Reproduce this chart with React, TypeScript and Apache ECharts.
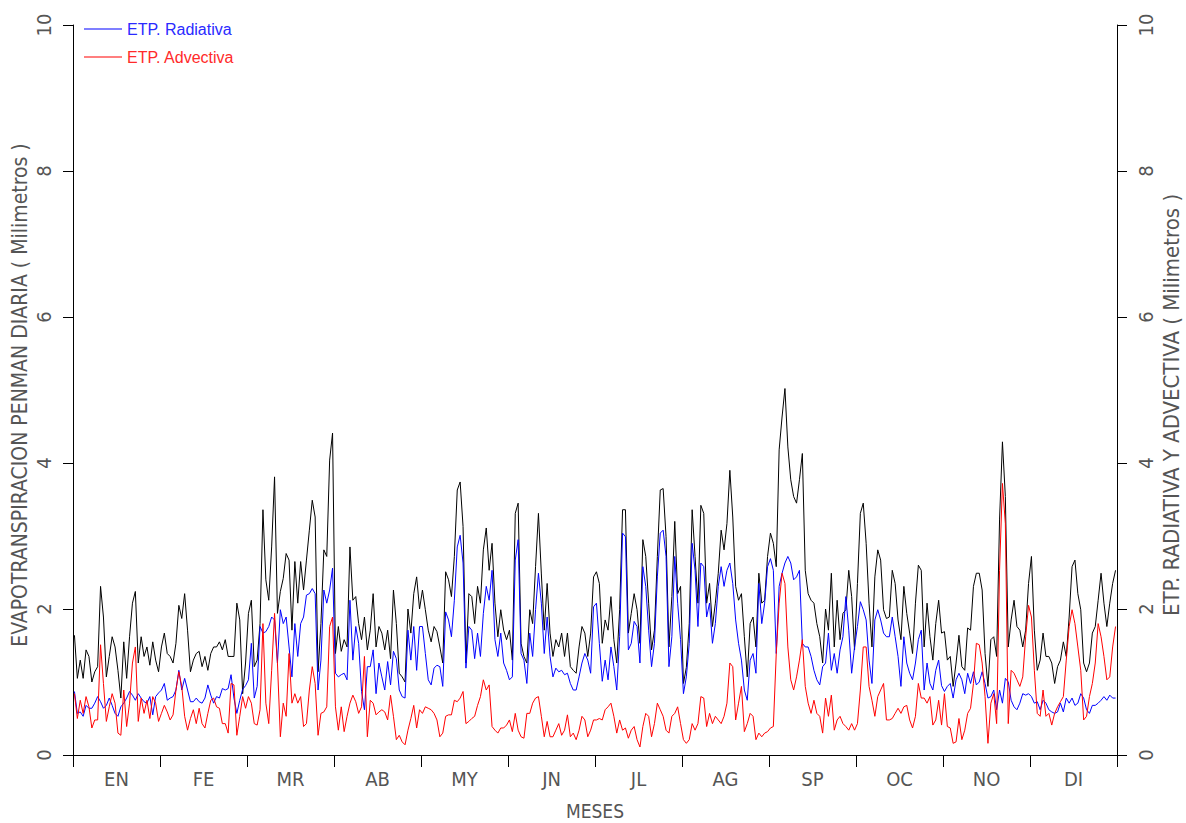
import React, { useEffect, useRef } from "react";
import * as echarts from "echarts";

const months = ["EN", "FE", "MR", "AB", "MY", "JN", "JL", "AG", "SP", "OC", "NO", "DI"];
const yTickValues = [0, 2, 4, 6, 8, 10];

// Daily Penman ETP (black), one row per month (30 days each)
const etpPenman: number[][] = [
  [1.64,1.05,1.30,1.05,1.44,1.35,1.00,1.14,1.21,2.31,1.89,1.07,1.35,1.62,1.48,1.16,0.78,1.55,1.05,1.62,2.08,2.24,1.26,1.62,1.35,1.48,1.23,1.55,1.30,1.14],
  [1.48,1.67,1.39,1.35,1.26,1.53,2.05,1.87,2.21,1.71,1.14,1.30,1.39,1.42,1.21,1.35,1.16,1.39,1.48,1.48,1.55,1.44,1.58,1.35,1.35,1.35,2.08,1.85,0.84,1.26],
  [1.94,2.12,1.21,1.30,1.80,3.36,2.40,2.12,2.85,3.81,1.94,2.24,2.42,2.76,2.67,1.71,2.65,2.08,2.65,2.26,2.67,3.08,3.49,3.26,1.14,1.80,2.81,2.72,4.04,4.41],
  [1.39,1.76,1.42,1.58,1.48,2.85,2.12,2.17,1.80,1.58,1.89,1.44,1.71,2.21,1.48,1.76,1.67,1.44,1.71,1.32,2.26,1.80,1.12,1.07,1.00,2.00,1.67,2.21,2.44,2.00],
  [2.26,1.99,1.71,1.55,1.76,1.69,1.48,1.26,2.51,2.40,2.17,2.72,3.63,3.74,3.13,1.26,2.21,2.17,1.80,2.31,2.08,2.81,3.11,2.53,2.90,2.08,1.62,1.99,1.71,1.58],
  [1.71,1.30,3.31,3.45,1.53,1.35,1.26,1.99,1.80,2.58,3.31,2.48,1.71,2.35,1.67,1.35,1.58,1.48,1.67,1.35,1.67,1.21,1.16,1.12,1.48,1.76,1.67,1.35,1.67,2.44],
  [2.51,2.35,1.53,1.85,1.71,2.17,1.58,1.26,1.99,3.36,3.36,1.67,1.94,2.21,1.99,1.53,2.95,2.72,2.08,1.44,1.71,2.72,3.63,3.65,2.99,1.48,2.17,3.20,2.21,2.31],
  [0.98,1.20,1.80,3.36,2.72,2.08,3.42,3.31,2.08,2.35,1.76,2.08,2.49,3.08,2.81,3.17,3.90,3.26,2.31,2.12,2.21,1.62,1.07,1.80,1.89,1.48,2.49,2.08,2.12,2.72],
  [3.04,2.90,2.58,4.18,4.63,5.02,4.22,3.77,3.54,3.45,3.77,4.13,2.53,2.21,2.12,2.08,1.80,1.62,1.26,2.00,1.71,2.49,1.48,2.12,1.58,1.94,1.99,2.53,2.17,1.44],
  [2.35,3.31,3.45,2.90,2.08,1.48,2.44,2.81,2.67,1.99,1.87,1.89,2.53,2.35,1.85,1.58,2.31,1.94,1.67,1.39,2.08,2.60,2.53,1.48,2.08,1.62,1.30,1.80,2.12,1.67],
  [1.69,1.30,1.35,0.94,1.26,1.64,1.21,1.16,1.74,1.71,2.31,2.49,2.49,2.26,1.39,0.94,1.58,1.62,1.35,3.22,4.29,3.54,1.48,1.85,2.12,1.76,1.71,1.48,1.71,2.35],
  [2.72,1.71,1.16,1.30,1.67,1.35,1.35,1.26,0.98,1.21,1.30,1.55,1.35,1.89,2.58,2.67,2.21,1.99,1.26,1.14,1.26,1.67,1.76,2.12,2.49,2.08,1.76,2.08,2.35,2.53],
];

// ETP Radiativa (blue)
const etpRadiativa: number[][] = [
  [0.87,0.57,0.59,0.53,0.68,0.64,0.64,0.71,0.80,0.73,0.64,0.68,0.78,0.68,0.57,0.53,0.66,0.71,0.78,0.87,0.82,0.75,0.84,0.78,0.73,0.71,0.80,0.55,0.80,0.85],
  [0.89,0.98,0.75,0.78,0.80,0.89,1.16,0.89,1.05,0.89,0.73,0.73,0.78,0.73,0.71,0.78,0.96,0.82,0.71,0.80,0.78,0.91,0.89,0.91,1.10,0.78,0.57,0.75,0.90,0.95],
  [1.03,1.53,0.78,0.94,1.76,1.67,1.69,1.76,1.89,1.85,1.26,1.99,1.80,1.89,1.48,1.07,1.80,1.35,1.80,1.89,2.19,2.21,2.28,2.21,0.89,1.30,2.26,2.08,2.26,2.56],
  [1.12,1.07,1.10,1.12,1.03,2.12,1.30,1.76,1.53,0.87,0.62,1.21,1.21,1.44,0.84,1.26,1.07,0.89,1.28,0.96,1.42,1.32,0.89,0.80,0.78,1.71,1.30,1.76,1.16,1.76],
  [1.76,1.39,1.03,0.96,1.19,1.23,1.21,0.94,1.96,1.85,1.62,2.12,2.85,3.01,2.63,1.19,1.76,1.71,1.32,1.67,1.35,1.94,2.31,2.12,2.53,1.58,1.35,1.67,1.26,1.16],
  [1.03,1.07,2.67,2.95,1.39,1.30,0.98,1.67,1.35,1.99,2.49,2.08,1.39,1.89,1.35,1.07,1.19,1.14,1.16,1.10,1.12,0.98,0.89,0.89,1.07,1.26,1.39,1.30,1.12,2.03],
  [2.08,1.53,1.01,1.30,1.03,1.48,1.21,0.89,1.62,3.04,2.99,1.44,1.53,1.83,1.76,1.26,2.58,2.31,1.71,1.21,1.53,2.44,3.04,3.08,2.72,1.21,1.62,2.72,2.08,1.58],
  [0.84,1.07,1.53,2.90,2.53,1.76,2.63,2.58,1.89,2.08,1.53,1.80,2.31,2.58,2.31,2.53,2.63,2.35,1.85,1.53,1.30,0.89,0.75,1.30,1.39,1.12,2.35,1.80,2.08,2.58],
  [2.69,2.53,1.39,2.31,2.49,2.63,2.72,2.63,2.40,2.44,2.53,1.53,1.48,1.48,1.35,1.16,1.03,0.96,1.21,1.26,1.67,1.16,1.39,1.12,1.44,1.62,2.17,1.71,1.12,1.48],
  [1.76,2.10,1.99,1.85,1.30,0.98,1.85,1.99,1.85,1.67,1.62,1.62,1.89,1.62,1.35,0.94,1.62,1.26,1.12,1.03,1.26,1.58,1.71,0.89,1.26,0.98,0.89,1.16,1.30,0.95],
  [0.87,0.94,0.98,0.78,1.03,1.12,1.03,0.84,1.12,0.98,1.14,0.96,1.00,1.14,0.98,0.78,0.80,0.89,0.62,0.89,0.71,1.05,1.00,0.75,0.66,0.62,0.71,0.84,0.82,0.84],
  [0.80,0.71,0.73,0.62,0.75,0.71,0.62,0.59,0.57,0.59,0.71,0.59,0.78,0.71,0.78,0.68,0.71,0.84,0.78,0.62,0.57,0.68,0.68,0.71,0.75,0.80,0.75,0.82,0.78,0.78],
];

// ETP Advectiva (red)
const etpAdvectiva: number[][] = [
  [0.84,0.50,0.75,0.57,0.80,0.66,0.37,0.48,0.48,1.51,0.98,0.46,0.66,0.84,0.71,0.30,0.27,0.89,0.39,0.71,1.26,1.48,0.46,0.78,0.57,0.75,0.50,0.80,0.71,0.46],
  [0.57,0.68,0.59,0.48,0.55,0.89,1.14,0.94,0.53,0.34,0.50,0.62,0.43,0.64,0.43,0.37,0.57,0.75,0.78,0.66,0.64,0.43,0.43,0.30,0.98,0.96,0.27,0.53,0.80,0.64],
  [0.80,0.71,0.43,0.41,0.62,1.80,0.71,0.43,1.16,1.94,1.26,0.25,0.71,0.53,1.39,0.71,0.84,0.71,0.80,0.39,0.43,0.89,1.21,0.98,0.27,0.57,0.59,0.66,1.76,1.89],
  [0.66,0.34,0.66,0.32,0.53,0.71,0.82,0.73,0.57,0.66,1.35,0.25,0.75,0.71,0.55,0.59,0.62,0.59,0.48,0.82,0.53,0.21,0.27,0.18,0.14,0.34,0.50,0.68,0.37,0.62],
  [0.57,0.66,0.64,0.62,0.57,0.48,0.25,0.30,0.53,0.55,0.55,0.75,0.73,0.78,0.87,0.43,0.46,0.50,0.53,0.68,0.80,1.03,0.89,0.96,0.39,0.34,0.30,0.37,0.37,0.41],
  [0.48,0.32,0.57,0.34,0.25,0.23,0.57,0.57,0.71,0.78,0.80,0.53,0.25,0.46,0.25,0.25,0.34,0.43,0.27,0.34,0.55,0.25,0.30,0.21,0.34,0.53,0.48,0.25,0.34,0.48],
  [0.48,0.50,0.48,0.62,0.66,0.71,0.53,0.30,0.48,0.34,0.37,0.23,0.34,0.39,0.21,0.11,0.39,0.57,0.53,0.25,0.43,0.71,0.62,0.53,0.34,0.30,0.53,0.57,0.66,0.43],
  [0.21,0.16,0.21,0.43,0.34,0.43,0.80,0.78,0.39,0.57,0.43,0.53,0.48,0.43,0.53,0.71,1.26,1.21,0.48,0.71,0.94,0.32,0.43,0.57,0.53,0.21,0.30,0.25,0.30,0.32],
  [0.37,0.39,1.39,2.08,2.49,2.35,1.48,1.03,0.89,1.07,1.30,1.58,0.94,0.71,0.57,0.75,0.57,0.53,0.30,0.78,0.53,0.82,0.34,0.48,0.53,0.43,0.39,0.34,0.43,0.34],
  [0.43,0.89,1.48,1.48,0.94,0.75,0.53,0.80,0.89,0.98,0.48,0.48,0.50,0.57,0.64,0.57,0.66,0.68,0.48,0.37,0.53,0.98,0.78,0.78,0.71,0.80,0.41,0.48,0.75,0.41],
  [0.84,0.39,0.37,0.16,0.18,0.50,0.21,0.34,0.57,0.64,0.98,1.53,1.51,1.26,0.80,0.16,0.71,0.84,0.43,2.53,3.72,3.17,0.43,1.16,1.12,1.03,0.94,1.07,1.62,2.05],
  [1.89,1.16,0.57,0.53,0.89,0.53,0.57,0.41,0.57,0.66,0.73,0.80,1.30,1.76,1.99,1.80,1.48,1.16,0.48,0.53,0.80,0.98,1.26,1.80,1.62,1.35,1.03,1.07,1.48,1.76],
];

const FONT = "'Liberation Sans Narrow', 'DejaVu Sans Condensed', 'Liberation Sans', Arial, sans-serif";
const TEXT_GRAY = "#555555";

function toPoints(rows: number[][]): number[][] {
  return rows.flat().map((v, i) => [i + 0.5, v]);
}

export default function App() {
  const ref = useRef<HTMLDivElement>(null);

  useEffect(() => {
    if (!ref.current) return;
    const chart = echarts.init(ref.current, null, { renderer: "svg" });

    const yAxisBase = (position: "left" | "right") => ({
      type: "value" as const,
      position,
      min: yTickValues[0],
      max: yTickValues[yTickValues.length - 1],
      interval: 2,
      axisLine: { show: true, lineStyle: { color: "#000", width: 1 } },
      axisTick: { show: true, length: 10, lineStyle: { color: "#000", width: 1 } },
      splitLine: { show: false },
      axisLabel: {
        rotate: 90,
        margin: 19,
        color: TEXT_GRAY,
        fontSize: 20,
        fontFamily: FONT,
      },
    });

    const option: any = {
      animation: false,
      backgroundColor: "#ffffff",
      grid: {
        left: 73,
        right: 69,
        top: 25,
        bottom: 68,
        containLabel: false,
        outerBoundsMode: "none",
      },
      legend: {
        orient: "vertical",
        left: 79,
        top: 16,
        itemWidth: 38,
        itemHeight: 1,
        itemGap: 12,
        icon: "rect",
        textStyle: { fontSize: 16, fontFamily: "'Liberation Sans', Arial, sans-serif" },
        data: [
          { name: "ETP. Radiativa", textStyle: { color: "#2a2aff" } },
          { name: "ETP. Advectiva", textStyle: { color: "#ff2a2a" } },
        ],
      },
      xAxis: [
        {
          type: "value",
          min: 0,
          max: 360,
          interval: 30,
          position: "bottom",
          axisLine: { show: true, lineStyle: { color: "#000", width: 1 } },
          axisTick: { show: true, length: 12, lineStyle: { color: "#000", width: 1 } },
          axisLabel: { show: false },
          splitLine: { show: false },
          name: "MESES",
          nameLocation: "middle",
          nameGap: 46,
          nameTextStyle: { color: TEXT_GRAY, fontSize: 19, lineHeight: 20, fontFamily: FONT },
        },
        {
          type: "category",
          data: months,
          position: "bottom",
          boundaryGap: true,
          axisLine: { show: false },
          axisTick: { show: false },
          splitLine: { show: false },
          axisLabel: { margin: 14, color: TEXT_GRAY, fontSize: 20, fontFamily: FONT },
        },
      ],
      yAxis: [yAxisBase("left"), yAxisBase("right")],
      graphic: [
        {
          type: "text",
          x: 20,
          y: 395,
          rotation: Math.PI / 2,
          style: {
            text: "EVAPOTRANSPIRACION PENMAN DIARIA ( Milimetros )",
            fill: TEXT_GRAY,
            fontSize: 21,
            fontFamily: FONT,
            align: "center",
            verticalAlign: "middle",
          },
        },
        {
          type: "text",
          x: 1171,
          y: 405,
          rotation: Math.PI / 2,
          style: {
            text: "ETP. RADIATIVA Y ADVECTIVA ( Milimetros )",
            fill: TEXT_GRAY,
            fontSize: 22,
            fontFamily: FONT,
            align: "center",
            verticalAlign: "middle",
          },
        },
      ],
      series: [
        {
          name: "ETP. Penman",
          type: "line",
          xAxisIndex: 0,
          yAxisIndex: 0,
          showSymbol: false,
          symbol: "none",
          lineStyle: { color: "#000000", width: 1 },
          itemStyle: { color: "#000000" },
          data: toPoints(etpPenman),
        },
        {
          name: "ETP. Radiativa",
          type: "line",
          xAxisIndex: 0,
          yAxisIndex: 1,
          showSymbol: false,
          symbol: "none",
          lineStyle: { color: "#0000ff", width: 1 },
          itemStyle: { color: "#0000ff" },
          data: toPoints(etpRadiativa),
        },
        {
          name: "ETP. Advectiva",
          type: "line",
          xAxisIndex: 0,
          yAxisIndex: 1,
          showSymbol: false,
          symbol: "none",
          lineStyle: { color: "#ff0000", width: 1 },
          itemStyle: { color: "#ff0000" },
          data: toPoints(etpAdvectiva),
        },
      ],
    };

    chart.setOption(option);
    return () => chart.dispose();
  }, []);

  return (
    <div
      ref={ref}
      style={{ position: "fixed", left: 0, top: 0, width: 1186, height: 823, background: "#fff" }}
    />
  );
}
